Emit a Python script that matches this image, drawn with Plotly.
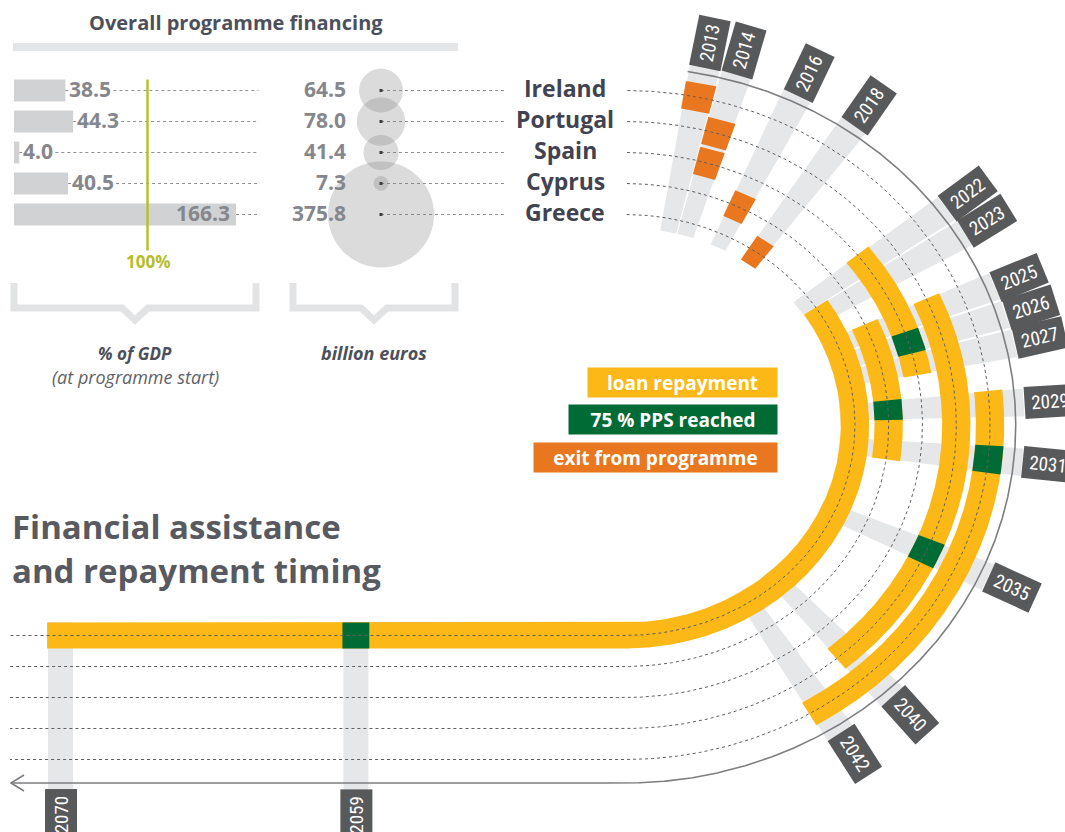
import math
import numpy as np
import plotly.graph_objects as go

# ---------------- data ----------------
countries = ["Ireland", "Portugal", "Spain", "Cyprus", "Greece"]
gdp_share = [38.5, 44.3, 4.0, 40.5, 166.3]        # % of GDP at programme start
financing_bn = [64.5, 78.0, 41.4, 7.3, 375.8]      # billion euros
exit_year = [2013, 2014, 2014, 2016, 2018]         # exit from programme
repay_first = [2029, 2025, 2022, 2025, 2023]       # loan repayment: first year
repay_last = [2042, 2040, 2027, 2031, 2070]        # loan repayment: last year
pps_year = [2031, 2035, 2026, 2029, 2059]          # 75 % PPS reached
tick_years = [2013, 2014, 2016, 2018, 2022, 2023, 2025, 2026, 2027,
              2029, 2031, 2035, 2040, 2042, 2059, 2070]
legend_items = ["loan repayment", "75 % PPS reached", "exit from programme"]
pct_reference = 100

# ---------------- layout / style constants ----------------
W, H = 1065, 832
CX, CY = 625.5, 425.0          # centre of the spiral
SX = 1.09                      # horizontal stretch of the spiral
R_TRACK0, R_STEP = 334.5, 31.0
R_OUT = 358
R_BAND_IN, R_BAND_OUT = 197, 366
R_LABEL = 390
TRACK_W = 26
TH_2013 = 11.5                 # angle (deg, clockwise from top) of 2013
DEG_YR = 4.686
PX_YR = 26.85                  # straight part scale
Y180 = 2013 + (180 - TH_2013) / DEG_YR
LINE_END_X = 10

YELLOW, GREEN, ORANGE = "#fbb817", "#006b35", "#e8771f"
BAND_GREY, LABEL_GREY = "#e6e7e8", "#58595b"
TEXT_DARK, VALUE_GREY = "#41434f", "#85878c"
FONT = "Open Sans, Liberation Sans, DejaVu Sans, sans-serif"
COND = "Liberation Sans Narrow, Roboto Condensed, DejaVu Sans Condensed, Roboto, sans-serif"

BAR_X0, BAR_UNIT = 14, 1.335   # left edge and px per % unit for the bar axis
X2_MAX = 200
BAR_LINE_END = 183
BUBBLE_X, BUBBLE_MAX_D = 381, 106
BUBBLE_LINE_END = 505
COUNTRY_X = 565

row_r = [R_TRACK0 - i * R_STEP for i in range(len(countries))]
row_y = [CY - r for r in row_r]


def theta(year):
    return TH_2013 + (year - 2013) * DEG_YR


def pos(year, r):
    th = theta(year)
    if th <= 180:
        t = math.radians(th)
        return CX + SX * r * math.sin(t), CY - r * math.cos(t)
    return CX - (year - Y180) * PX_YR, CY + r


def year_samples(a, b, step=0.05):
    ys = list(np.arange(a, b, step)) + [b]
    if a < Y180 < b:
        ys.append(Y180)
        ys.sort()
    return ys


def sector(a, b, r0, r1):
    ys = year_samples(a, b)
    outer = [pos(y, r1) for y in ys]
    inner = [pos(y, r0) for y in reversed(ys)]
    pts = outer + inner + [outer[0]]
    return [p[0] for p in pts], [p[1] for p in pts]


fig = go.Figure()


def add_polys(polys, color):
    xs, ys = [], []
    for px, py in polys:
        xs += px + [None]
        ys += py + [None]
    fig.add_trace(go.Scatter(x=xs, y=ys, mode="lines", fill="toself",
                             fillcolor=color, line=dict(width=0),
                             hoverinfo="skip", showlegend=False))


def add_line(xs, ys, color, width, dash=None, xaxis="x"):
    fig.add_trace(go.Scatter(x=xs, y=ys, mode="lines",
                             line=dict(color=color, width=width, dash=dash),
                             hoverinfo="skip", showlegend=False, xaxis=xaxis))


# ---------------- spiral timeline ----------------
add_polys([sector(y - 0.465, y + 0.465, R_BAND_IN, R_BAND_OUT) for y in tick_years], BAND_GREY)
add_polys([sector(a - 0.5, b + 0.5, r - TRACK_W / 2, r + TRACK_W / 2)
           for a, b, r in zip(repay_first, repay_last, row_r)], YELLOW)
add_polys([sector(y - 0.5, y + 0.5, r - TRACK_W / 2, r + TRACK_W / 2)
           for y, r in zip(pps_year, row_r)], GREEN)
add_polys([sector(y - 0.5, y + 0.5, r - 14, r + 14)
           for y, r in zip(exit_year, row_r)], ORANGE)

y_start = 2013 - (TH_2013 - 0.3) / DEG_YR
y_end = Y180 + (CX - LINE_END_X) / PX_YR
for r in row_r:
    pts = [pos(y, r) for y in year_samples(y_start, y_end)]
    add_line([p[0] for p in pts], [p[1] for p in pts], "#5e5f63", 1, "dot")

pts = [pos(y, R_OUT) for y in year_samples(2012.5, Y180 + (CX - 11) / PX_YR)]
add_line([p[0] for p in pts], [p[1] for p in pts], "#7d7e81", 1.6)
ax, ay = pts[-1]
add_line([ax + 13, ax, ax + 13], [ay - 8, ay, ay + 8], "#7d7e81", 1.6)

annotations = []
for y in tick_years:
    x, yy = pos(y, R_LABEL)
    th = theta(y)
    ang = th - 90 if th <= 180 else -90
    annotations.append(dict(x=x, y=yy, xref="x", yref="y", text=str(y),
                            showarrow=False, textangle=ang, bgcolor=LABEL_GREY,
                            width=48, height=29, align="center",
                            font=dict(family=COND, size=19, color="white")))

# ---------------- legend boxes ----------------
leg_colors = [YELLOW, GREEN, ORANGE]
leg_widths = [187, 206, 241]
for i, (txt, c, w) in enumerate(zip(legend_items, leg_colors, leg_widths)):
    annotations.append(dict(x=778, y=382 + i * 37.5, xref="x", yref="y", text=txt,
                            showarrow=False, xanchor="right", yanchor="middle",
                            bgcolor=c, width=w, height=27, align="center",
                            font=dict(family=FONT, size=19, color="white", weight="bold")))

# ---------------- overall programme financing panel ----------------
for v, yy in zip(gdp_share, row_y):
    add_line([v, BAR_LINE_END], [yy, yy], "#8d8f93", 1, "dot", xaxis="x2")
for yy in row_y:
    add_line([BUBBLE_X, BUBBLE_LINE_END], [yy, yy], "#8d8f93", 1, "dot")

fig.add_trace(go.Bar(x=gdp_share, y=row_y, orientation="h", width=22, base=0,
                     marker=dict(color="#d1d2d4", line=dict(width=0)),
                     xaxis="x2", yaxis="y", hoverinfo="skip", showlegend=False))

fig.add_trace(go.Scatter(x=[BUBBLE_X] * len(countries), y=row_y, mode="markers",
                         marker=dict(size=financing_bn, sizemode="area",
                                     sizeref=2.0 * max(financing_bn) / BUBBLE_MAX_D ** 2,
                                     color="rgba(125,127,131,0.40)", line=dict(width=0)),
                         hoverinfo="skip", showlegend=False))
fig.add_trace(go.Scatter(x=[BUBBLE_X] * len(countries), y=row_y, mode="markers",
                         marker=dict(size=3, symbol="square", color="#3c3d40"),
                         hoverinfo="skip", showlegend=False))

for v, yy in zip(gdp_share, row_y):
    inside = v > 120
    annotations.append(dict(x=v, y=yy, xref="x2", yref="y", text=f"{v:.1f}",
                            showarrow=False, xanchor="right" if inside else "left",
                            xshift=-5 if inside else 3, yshift=2, yanchor="middle",
                            bgcolor=None if inside else "white", borderpad=0,
                            font=dict(family=FONT, size=21, color=VALUE_GREY, weight="bold")))
for v, yy in zip(financing_bn, row_y):
    annotations.append(dict(x=348, y=yy, xref="x", yref="y", text=f"{v:.1f}",
                            showarrow=False, xanchor="right", yanchor="middle", yshift=2,
                            font=dict(family=FONT, size=21, color=VALUE_GREY, weight="bold")))
for c, yy in zip(countries, row_y):
    annotations.append(dict(x=COUNTRY_X, y=yy, xref="x", yref="y", text=c,
                            showarrow=False, xanchor="center", yanchor="middle", yshift=3,
                            font=dict(family=FONT, size=23, color=TEXT_DARK, weight="bold")))

annotations.append(dict(x=pct_reference, y=row_y[-1] + 47, xref="x2", yref="y",
                        text=f"{pct_reference}%", showarrow=False,
                        font=dict(family=FONT, size=17, color="#b5bd2b", weight="bold")))

annotations.append(dict(x=236, y=22, xref="x", yref="y", text="Overall programme financing",
                        showarrow=False, font=dict(family=FONT, size=20, color="#4d4f5a", weight="bold")))


# brackets
def bracket(x0, x1, top=283, bot=308, depth=12, half=13):
    xc = (x0 + x1) / 2
    return [x0, x0, xc - half, xc, xc + half, x1, x1], [top, bot, bot, bot + depth, bot, bot, top], xc


bx, by, lc = bracket(14, 256)
add_line(bx, by, "#e2e3e4", 7)
bx, by, rc = bracket(293, 455)
add_line(bx, by, "#e2e3e4", 7)

annotations += [
    dict(x=lc, y=353, xref="x", yref="y", text="<b><i>% of GDP</i></b>", showarrow=False,
         font=dict(family=FONT, size=17, color="#4d4f5a")),
    dict(x=lc, y=377, xref="x", yref="y", text="<i>(at programme start)</i>", showarrow=False,
         font=dict(family=FONT, size=18, color="#5f6168")),
    dict(x=rc, y=353, xref="x", yref="y", text="<b><i>billion euros</i></b>", showarrow=False,
         font=dict(family=FONT, size=18, color="#4d4f5a")),
    dict(x=10, y=526, xref="x", yref="y", text="Financial assistance", showarrow=False,
         xanchor="left", font=dict(family=FONT, size=33, color="#585a5f", weight="bold")),
    dict(x=10, y=570, xref="x", yref="y", text="and repayment timing", showarrow=False,
         xanchor="left", font=dict(family=FONT, size=33, color="#585a5f", weight="bold")),
]

shapes = [
    dict(type="rect", xref="x", yref="y", x0=13, x1=458, y0=43, y1=51,
         fillcolor="#e4e5e6", line=dict(width=0), layer="below"),
    dict(type="line", xref="x2", yref="y", x0=pct_reference, x1=pct_reference,
         y0=row_y[0] - 11, y1=row_y[-1] + 36, line=dict(color="#b8bf2c", width=2.5)),
]

fig.update_layout(
    width=W, height=H, margin=dict(l=0, r=0, t=0, b=0),
    paper_bgcolor="white", plot_bgcolor="rgba(0,0,0,0)",
    xaxis=dict(range=[0, W], visible=False, fixedrange=True),
    xaxis2=dict(range=[0, X2_MAX], domain=[BAR_X0 / W, (BAR_X0 + X2_MAX * BAR_UNIT) / W],
                anchor="y", visible=False, fixedrange=True),
    yaxis=dict(range=[H, 0], visible=False, fixedrange=True),
    showlegend=False, annotations=annotations, shapes=shapes,
)

fig.write_html("out.html", config={"displayModeBar": False, "staticPlot": True},
               post_script="document.body.style.margin='0px';")
